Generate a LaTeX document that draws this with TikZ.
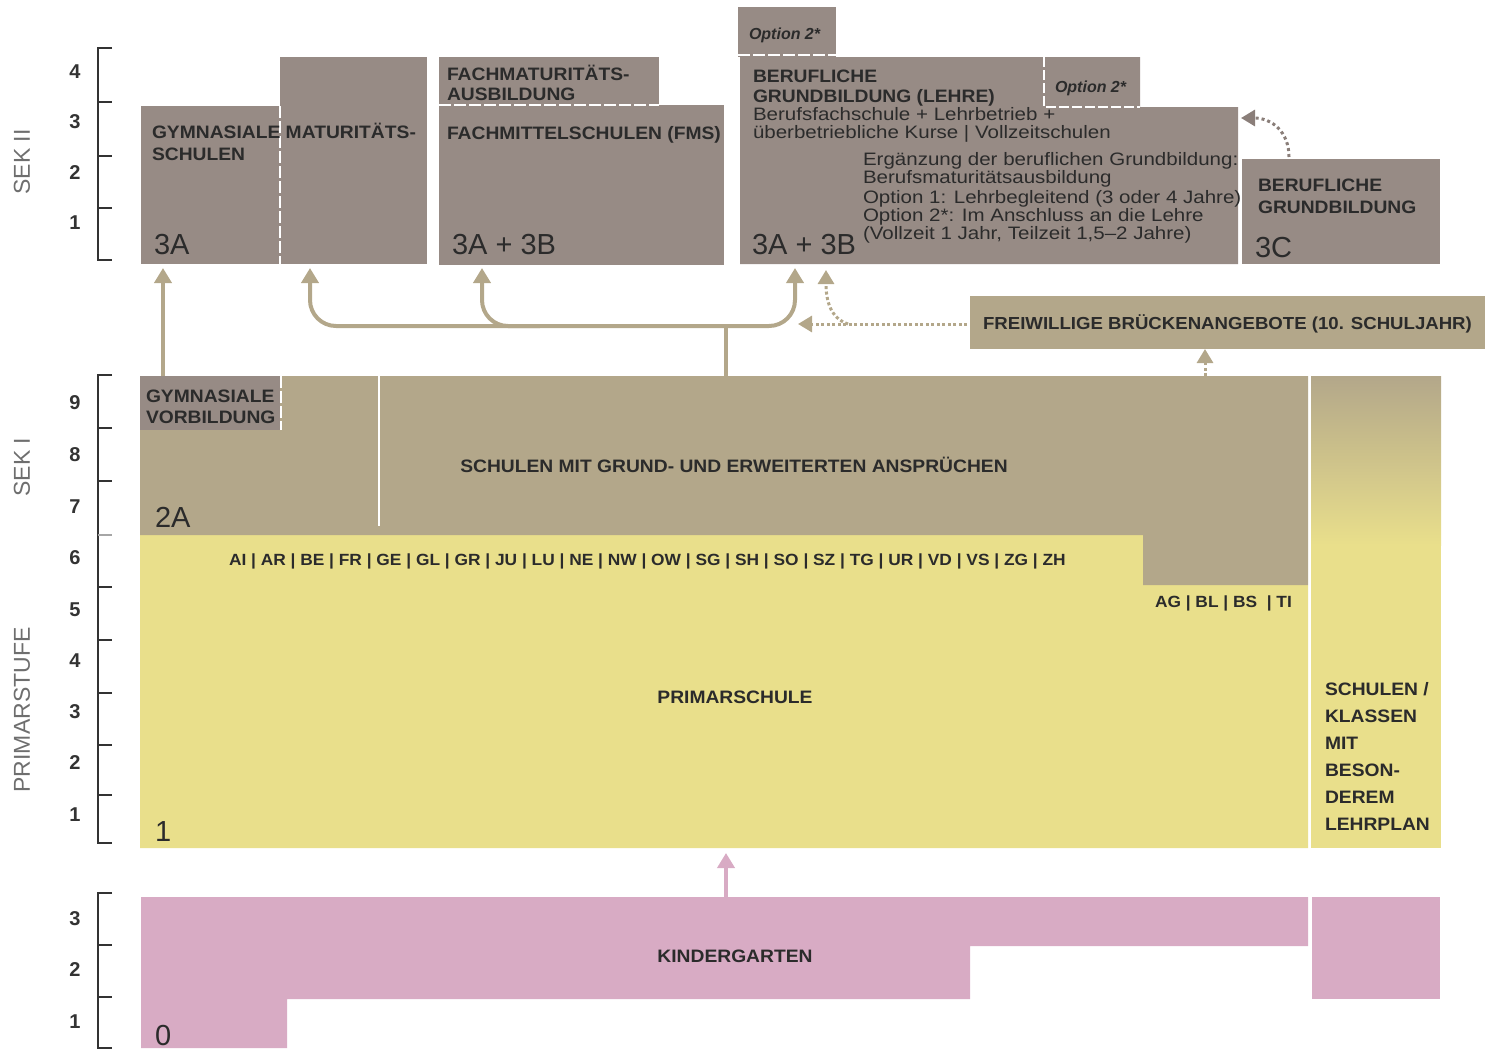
\documentclass[tikz,border=0pt]{standalone}
\usepackage{fontspec}
\setmainfont{Liberation Sans}
\newfontfamily\widesf{Liberation Sans}[FakeStretch=1.14]
\newfontfamily\capsf{Liberation Sans}[FakeStretch=1.07]
\usetikzlibrary{arrows.meta}
\definecolor{sgrey}{HTML}{978B85}
\definecolor{stan}{HTML}{B3A78A}
\definecolor{syel}{HTML}{E9DF8B}
\definecolor{spink}{HTML}{D8ABC4}
\definecolor{stxt}{HTML}{2B2B2B}
\definecolor{saxis}{HTML}{333333}
\definecolor{slab}{HTML}{6E6E6E}
\definecolor{sdot}{HTML}{8A7E79}
\newcommand\fCap{\fontsize{18}{20}\selectfont\capsf\bfseries}
\newcommand\fBr{\fontsize{17.4}{20}\selectfont\capsf\bfseries}
\newcommand\fBig{\fontsize{29}{31}\selectfont}
\newcommand\fSm{\fontsize{18}{18}\selectfont\widesf}
\newcommand\fCant{\fontsize{16.2}{18}\selectfont\capsf\bfseries}
\newcommand\fNum{\fontsize{20}{22}\selectfont\bfseries}
\newcommand\fSide{\fontsize{23}{25}\selectfont}
\newcommand\fIt{\fontsize{16}{18}\selectfont\bfseries\itshape}
\begin{document}
\begin{tikzpicture}[x=1pt,y=-1pt,
  box/.style={inner sep=0pt,outer sep=0pt,anchor=north west,draw=none},
  txt/.style={inner sep=0pt,outer sep=0pt,anchor=base west,text=stxt},
  ctxt/.style={inner sep=0pt,outer sep=0pt,anchor=center,text=stxt},
  num/.style={inner sep=0pt,anchor=center,text=saxis,font=\fNum},
  side/.style={inner sep=0pt,anchor=center,text=slab,font=\fSide,rotate=90},
  axis/.style={draw=saxis,line width=1.8pt},
  wdash/.style={draw=white,line width=2pt,dash pattern=on 12pt off 3pt},
  sarr/.style={draw=stan,line width=4pt,-{Triangle[width=17pt,length=15pt]}},
  sline/.style={draw=stan,line width=4pt},
  darr/.style={draw=stan,line width=3pt,dash pattern=on 3pt off 2.5pt,-{Triangle[width=16pt,length=14pt]}},
  garr/.style={draw=sdot,line width=3pt,dash pattern=on 3pt off 3pt,-{Triangle[width=16pt,length=14pt]}},
  parr/.style={draw=spink,line width=4pt,-{Triangle[width=17pt,length=15pt]}}
]
\useasboundingbox (0,0) rectangle (1485,1050);

% ---------------- axes ----------------
\draw[axis] (112,48) -- (98,48) -- (98,260) -- (112,260);
\foreach \yy in {102,156,208} \draw[axis] (98,\yy) -- (112,\yy);
\draw[axis] (112,375) -- (98,375) -- (98,843) -- (112,843);
\foreach \yy in {428,481,587,640,693,745,795} \draw[axis] (98,\yy) -- (112,\yy);
\draw[draw=gray!70,line width=1.8pt] (98,535) -- (112,535);
\draw[axis] (112,893) -- (98,893) -- (98,1048) -- (112,1048);
\foreach \yy in {945,997} \draw[axis] (98,\yy) -- (112,\yy);

\foreach \n/\yy in {4/72,3/122,2/173,1/223} \node[num] (s2n\n) at (75,\yy) {\n};
\foreach \n/\yy in {9/403,8/455,7/507,6/558,5/610,4/661,3/712,2/763,1/815} \node[num] (s1n\n) at (75,\yy) {\n};
\foreach \n/\yy in {3/919,2/970,1/1022} \node[num] (kgn\n) at (75,\yy) {\n};
\node[side] (lsek2) at (22,162) {SEK II};
\node[side] (lsek1) at (22,467) {SEK I};
\node[side] (lprim) at (22,710) {PRIMARSTUFE};

% ---------------- SEK II ----------------
\node[box,fill=sgrey,minimum width=139pt,minimum height=158pt] (gymA) at (141,106) {};
\node[box,fill=sgrey,minimum width=147pt,minimum height=207pt] (gymB) at (280,57) {};
\draw[wdash] (280,106) -- (280,264);
\node[box,fill=sgrey,minimum width=220pt,minimum height=48pt] (fma) at (439,57) {};
\node[box,fill=sgrey,minimum width=285pt,minimum height=160pt] (fms) at (439,105) {};
\draw[wdash] (439,105) -- (659,105);
\node[box,fill=sgrey,minimum width=98pt,minimum height=50pt] (opt2a) at (738,7) {};
\fill[sgrey] (740,57) -- (1140,57) -- (1140,107) -- (1238,107) -- (1238,264) -- (740,264) -- cycle;
\node[box,minimum width=498pt,minimum height=207pt] (lehre) at (740,57) {};
\draw[wdash] (738,55) -- (836,55);
\draw[draw=white,line width=2pt,dash pattern=on 10pt off 3pt] (1044,57) -- (1044,107) -- (1140,107);
\node[box,fill=sgrey,minimum width=198pt,minimum height=105pt] (bg3c) at (1242,159) {};

% texts SEK II
\node[txt,font=\fCap] (tgym1) at (152,138) {GYMNASIALE MATURITÄTS-};
\node[txt,font=\fCap] (tgym2) at (152,160) {SCHULEN};
\node[txt,font=\fBig] (tgym3) at (154,254) {3A};
\node[txt,font=\fCap] (tfma1) at (447,80) {FACHMATURITÄTS-};
\node[txt,font=\fCap] (tfma2) at (447,100) {AUSBILDUNG};
\node[txt,font=\fCap] (tfms1) at (447,139) {FACHMITTELSCHULEN (FMS)};
\node[txt,font=\fBig] (tfms2) at (452,254) {3A + 3B};
\node[txt,font=\fIt] (topt1) at (749,39) {Option 2*};
\node[txt,font=\fIt] (topt2) at (1055,92) {Option 2*};
\node[txt,font=\fCap] (tl1) at (753,82) {BERUFLICHE};
\node[txt,font=\fCap] (tl2) at (753,102) {GRUNDBILDUNG (LEHRE)};
\node[txt,font=\fSm] (tl3) at (753,120) {Berufsfachschule + Lehrbetrieb +};
\node[txt,font=\fSm] (tl4) at (753,138) {überbetriebliche Kurse | Vollzeitschulen};
\node[txt,font=\fSm] (te1) at (863,165) {Ergänzung der beruflichen Grundbildung:};
\node[txt,font=\fSm] (te2) at (863,183) {Berufsmaturitätsausbildung};
\node[txt,font=\fSm] (te3) at (863,203) {Option 1: Lehrbegleitend (3 oder 4 Jahre)};
\node[txt,font=\fSm] (te4) at (863,221) {Option 2*: Im Anschluss an die Lehre};
\node[txt,font=\fSm] (te5) at (863,239) {(Vollzeit 1 Jahr, Teilzeit 1,5–2 Jahre)};
\node[txt,font=\fBig] (tl5) at (752,254) {3A + 3B};
\node[txt,font=\fCap] (t3c1) at (1258,191) {BERUFLICHE};
\node[txt,font=\fCap] (t3c2) at (1258,213) {GRUNDBILDUNG};
\node[txt,font=\fBig] (t3c3) at (1255,257) {3C};

% bridge offers
\node[box,fill=stan,minimum width=515pt,minimum height=53pt] (bridge) at (970,296) {};
\node[txt,font=\fBr] (tbr) at (983,329) {FREIWILLIGE BRÜCKENANGEBOTE (10. SCHULJAHR)};

% ---------------- SEK I & Primar ----------------
\fill[syel] (140,535) -- (1143,535) -- (1143,585) -- (1308,585) -- (1308,848) -- (140,848) -- cycle;
\fill[stan] (140,376) -- (1308,376) -- (1308,585) -- (1143,585) -- (1143,535) -- (140,535) -- cycle;
\node[box,minimum width=1168pt,minimum height=159pt] (sek1) at (140,376) {};
\node[box,minimum width=1168pt,minimum height=313pt] (prim) at (140,535) {};
\node[box,fill=sgrey,minimum width=140pt,minimum height=54pt] (gymvor) at (140,376) {};
\draw[wdash] (281,376) -- (281,430);
\draw[draw=white,line width=1.6pt] (379,376) -- (379,526);
\fill[syel] (1311,376) rectangle (1441,848);
\shade[top color=stan,bottom color=syel] (1311,376) rectangle (1441,545);
\node[box,minimum width=130pt,minimum height=472pt] (special) at (1311,376) {};
\draw[draw=white,line width=2pt,dash pattern=on 45pt off 3pt] (1309.5,376) -- (1309.5,848);

\node[txt,font=\fCap] (tgv1) at (146,402) {GYMNASIALE};
\node[txt,font=\fCap] (tgv2) at (146,423) {VORBILDUNG};
\node[ctxt,font=\fCap] (tsek1) at (734,465) {SCHULEN MIT GRUND- UND ERWEITERTEN ANSPRÜCHEN};
\node[txt,font=\fBig] (t2a) at (155,527) {2A};
\node[txt,font=\fCant] (tcant) at (229,565) {AI | AR | BE | FR | GE | GL | GR | JU | LU | NE | NW | OW | SG | SH | SO | SZ | TG | UR | VD | VS | ZG | ZH};
\node[txt,font=\fCant] (tcant2) at (1155,607) {AG | BL | BS \ | TI};
\node[ctxt,font=\fCap] (tprim) at (735,697) {PRIMARSCHULE};
\node[txt,font=\fBig] (t1) at (155,841) {1};
\node[txt,font=\fCap] (tsp1) at (1325,695) {SCHULEN /};
\node[txt,font=\fCap] (tsp2) at (1325,722) {KLASSEN};
\node[txt,font=\fCap] (tsp3) at (1325,749) {MIT};
\node[txt,font=\fCap] (tsp4) at (1325,776) {BESON-};
\node[txt,font=\fCap] (tsp5) at (1325,803) {DEREM};
\node[txt,font=\fCap] (tsp6) at (1325,830) {LEHRPLAN};

% ---------------- Kindergarten ----------------
\fill[spink] (141,897) -- (1308,897) -- (1308,946) -- (970,946) -- (970,999) -- (287,999) -- (287,1048) -- (141,1048) -- cycle;
\node[box,minimum width=1167pt,minimum height=151pt] (kg) at (141,897) {};
\node[box,fill=spink,minimum width=128pt,minimum height=102pt] (kgs) at (1312,897) {};
\node[ctxt,font=\fCap] (tkg) at (735,956) {KINDERGARTEN};
\node[txt,font=\fBig] (t0) at (155,1045) {0};

% ---------------- connectors ----------------
\coordinate (gvTop) at (163,376);
\coordinate (gymATip) at (163,268);
\draw[sarr] (gvTop) -- (gymATip);
\coordinate (trunkB) at (726,376);
\coordinate (trunkJ) at (726,326);
\coordinate (gymBTip) at (310,268);
\coordinate (fmsTip) at (482,268);
\coordinate (lehreTip) at (795,268);
\draw[sline] (trunkB) -- (trunkJ);
\draw[sarr,rounded corners=26pt] (trunkJ) -- (795,326) -- (lehreTip);
\draw[sarr,rounded corners=26pt] (trunkJ) -- (310,326) -- (gymBTip);
\draw[sarr,rounded corners=26pt] (540,326) -- (482,326) -- (fmsTip);

\coordinate (brW) at (967,324);
\coordinate (brTip) at (798,324);
\coordinate (brSplit) at (848,324);
\coordinate (brTip2) at (826,270);
\draw[darr] (brW) -- (brTip);
\draw[darr] (brSplit) .. controls (830,318) and (826,300) .. (brTip2);
\coordinate (sekBr) at (1205,376);
\coordinate (brBot) at (1205,349);
\draw[darr] (sekBr) -- (brBot);
\coordinate (c3Top) at (1289,157);
\coordinate (c3Tip) at (1241,118);
\draw[garr] (c3Top) .. controls (1289,132) and (1272,118) .. (c3Tip);
\coordinate (kgTop) at (726,897);
\coordinate (primBot) at (726,853);
\draw[parr] (kgTop) -- (primBot);
\end{tikzpicture}
\end{document}
